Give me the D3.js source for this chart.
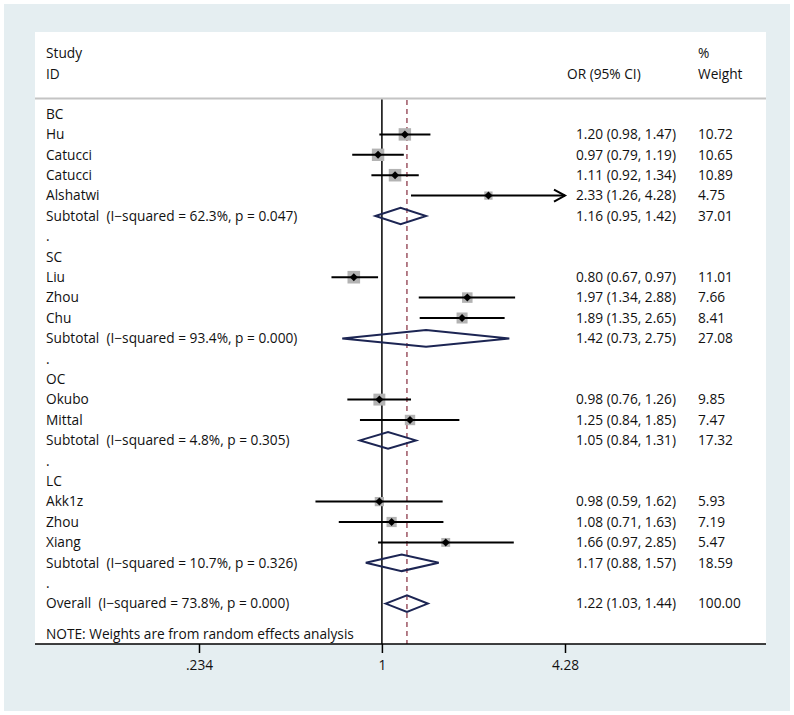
<!DOCTYPE html>
<html><head><meta charset="utf-8">
<script src="https://cdn.jsdelivr.net/npm/d3@7"></script>
<style>
html,body{margin:0;padding:0;background:#fff;}
svg text{font-family:"Open Sans","Noto Sans",sans-serif;font-size:13.7px;fill:#111;white-space:pre;}
</style></head>
<body>
<svg id="chart" width="794" height="715"></svg>
<script>
// ---- data ----
const labels = ["BC","Hu","Catucci","Catucci","Alshatwi","Subtotal  (I\u2212squared = 62.3%, p = 0.047)",".",
  "SC","Liu","Zhou","Chu","Subtotal  (I\u2212squared = 93.4%, p = 0.000)",".",
  "OC","Okubo","Mittal","Subtotal  (I\u2212squared = 4.8%, p = 0.305)",".",
  "LC","Akk1z","Zhou","Xiang","Subtotal  (I\u2212squared = 10.7%, p = 0.326)",".",
  "Overall  (I\u2212squared = 73.8%, p = 0.000)"];
const rowType = ["group","study","study","study","study","subtotal","blank",
  "group","study","study","study","subtotal","blank",
  "group","study","study","subtotal","blank",
  "group","study","study","study","subtotal","blank",
  "overall"];
const orValues = [null,1.20,0.97,1.11,2.33,1.16,null,null,0.80,1.97,1.89,1.42,null,null,0.98,1.25,1.05,null,null,0.98,1.08,1.66,1.17,null,1.22];
const ciLower  = [null,0.98,0.79,0.92,1.26,0.95,null,null,0.67,1.34,1.35,0.73,null,null,0.76,0.84,0.84,null,null,0.59,0.71,0.97,0.88,null,1.03];
const ciUpper  = [null,1.47,1.19,1.34,4.28,1.42,null,null,0.97,2.88,2.65,2.75,null,null,1.26,1.85,1.31,null,null,1.62,1.63,2.85,1.57,null,1.44];
const weights  = [null,10.72,10.65,10.89,4.75,37.01,null,null,11.01,7.66,8.41,27.08,null,null,9.85,7.47,17.32,null,null,5.93,7.19,5.47,18.59,null,100.00];
const tickValues = [0.234, 1, 4.28];
const tickLabels = [".234", "1", "4.28"];
const overallOR = 1.22;

// ---- layout ----
const svg = d3.select("#chart");
const W = 794, H = 715;
svg.append("rect").attr("x",0).attr("y",0).attr("width",W).attr("height",H).attr("fill","#ffffff");
svg.append("rect").attr("x",4).attr("y",4).attr("width",786).attr("height",707).attr("fill","#e5eef1");
const panel = {x0:35, x1:766, y0:32, y1:644};
svg.append("rect").attr("x",panel.x0).attr("y",panel.y0).attr("width",panel.x1-panel.x0).attr("height",panel.y1-panel.y0).attr("fill","#ffffff");

const x = d3.scaleLog().domain([0.234, 4.28]).range([199, 565]);
const y = d3.scaleLinear().domain([0, 24]).range([114, 603.6]);

// header
const txt = (t, xx, yy, anchor) => svg.append("text").attr("x",xx).attr("y",yy).attr("dy","0.35em").attr("xml:space","preserve").attr("text-anchor",anchor||"start").text(t);
txt("Study", 46, 53);
txt("ID", 46, 74);
txt("OR (95% CI)", 567, 74);
txt("%", 698, 53);
txt("Weight", 698, 74);
svg.append("line").attr("x1",panel.x0).attr("x2",panel.x1).attr("y1",98.5).attr("y2",98.5).attr("stroke","#c4c4c4").attr("stroke-width",2);

// reference lines
svg.append("line").attr("x1",x(1)).attr("x2",x(1)).attr("y1",99.5).attr("y2",panel.y1).attr("stroke","#000").attr("stroke-width",1.5);
svg.append("line").attr("x1",x(overallOR)).attr("x2",x(overallOR)).attr("y1",100).attr("y2",panel.y1).attr("stroke","#8e3b4b").attr("stroke-width",1.3).attr("stroke-dasharray","5,4");

// rows
const fmt = d3.format(".2f");
const boxK = 3.8;
labels.forEach((lab, i) => {
  const yy = y(i);
  txt(lab, 46, yy);
  const t = rowType[i];
  if (orValues[i] == null) return;
  txt(`${fmt(orValues[i])} (${fmt(ciLower[i])}, ${fmt(ciUpper[i])})`, 576, yy);
  txt(fmt(weights[i]), 698, yy);
  if (t === "study") {
    const s = boxK * Math.sqrt(weights[i]);
    svg.append("rect").attr("x", x(orValues[i]) - s/2).attr("y", yy - s/2).attr("width", s).attr("height", s).attr("fill", "#b3b3b3");
    const hi = ciUpper[i];
    const lo = ciLower[i];
    svg.append("line").attr("x1", x(lo)).attr("x2", x(hi)).attr("y1", yy).attr("y2", yy).attr("stroke", "#000").attr("stroke-width", 2);
    if (hi >= x.domain()[1]) {
      const xe = x(hi);
      svg.append("path").attr("d", `M${xe-11},${yy-6}L${xe},${yy}L${xe-11},${yy+6}`).attr("fill","none").attr("stroke","#000").attr("stroke-width",2);
    }
    const cx = x(orValues[i]), d = 4;
    svg.append("path").attr("d", `M${cx-d},${yy}L${cx},${yy-d}L${cx+d},${yy}L${cx},${yy+d}Z`).attr("fill","#000");
  } else {
    const h = 8.3;
    svg.append("path").attr("d", `M${x(ciLower[i])},${yy}L${x(orValues[i])},${yy-h}L${x(ciUpper[i])},${yy}L${x(orValues[i])},${yy+h}Z`)
      .attr("fill","none").attr("stroke","#1c2553").attr("stroke-width",2);
  }
});
txt("NOTE: Weights are from random effects analysis", 46, 634);

// axis
const axisG = svg.append("g").attr("transform", `translate(0,${panel.y1})`);
axisG.append("line").attr("x1",panel.x0).attr("x2",panel.x1).attr("y1",0).attr("y2",0).attr("stroke","#000").attr("stroke-width",1.6);
const axis = d3.axisBottom(x).tickValues(tickValues).tickFormat((d,i)=>tickLabels[i]).tickSize(9).tickPadding(7);
const ag = axisG.append("g").call(axis);
ag.select(".domain").remove();
ag.selectAll(".tick line").attr("stroke","#000").attr("stroke-width",1.5);
ag.selectAll(".tick text").style("font-size","13.7px").style("font-family","'Open Sans',sans-serif").attr("fill","#111");
</script>
</body></html>
